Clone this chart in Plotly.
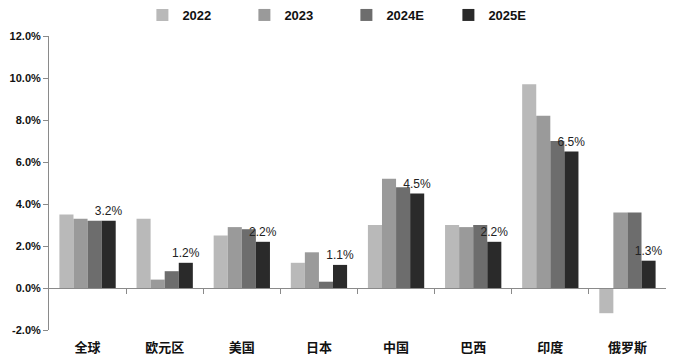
import plotly.graph_objects as go

categories = ["全球", "欧元区", "美国", "日本", "中国", "巴西", "印度", "俄罗斯"]
series_names = ["2022", "2023", "2024E", "2025E"]
v2022 = [3.5, 3.3, 2.5, 1.2, 3.0, 3.0, 9.7, -1.2]
v2023 = [3.3, 0.4, 2.9, 1.7, 5.2, 2.9, 8.2, 3.6]
v2024 = [3.2, 0.8, 2.8, 0.3, 4.8, 3.0, 7.0, 3.6]
v2025 = [3.2, 1.2, 2.2, 1.1, 4.5, 2.2, 6.5, 1.3]
y_ticks = [-2, 0, 2, 4, 6, 8, 10, 12]
y_range = [-2, 12]

colors = ["#b9b9b9", "#9a9a9a", "#6d6d6d", "#2a2a2a"]
values = [v2022, v2023, v2024, v2025]

fig = go.Figure()
for i, (name, vals) in enumerate(zip(series_names, values)):
    show_text = (i == 3)
    fig.add_trace(go.Bar(
        x=categories, y=vals, name=name,
        marker=dict(color=colors[i], line=dict(width=0)),
        text=[f"{v:.1f}%" for v in vals] if show_text else None,
        textposition="outside" if show_text else "none",
        constraintext="none",
        textfont=dict(size=12, color="#222222", family="Liberation Sans"),
        cliponaxis=False,
        hoverinfo="skip",
    ))

# helper axis for the zero line with category boundary ticks
n = len(categories)
fig.add_trace(go.Scatter(x=[-0.5, n - 0.5], y=[None, None], xaxis="x2", yaxis="y",
                         showlegend=False, hoverinfo="skip", mode="lines"))

zero_pos = (0 - y_range[0]) / (y_range[1] - y_range[0])

fig.update_layout(
    width=676, height=356,
    margin=dict(l=49, r=10, t=36, b=26, autoexpand=False),
    paper_bgcolor="white", plot_bgcolor="white",
    barmode="group", bargap=0.27, bargroupgap=0,
    font=dict(family="Noto Sans CJK SC", color="#111111"),
    legend=dict(orientation="h", x=0.482, xanchor="center", y=1.0, yanchor="top",
                yref="container", font=dict(size=13, family="Liberation Sans", weight="bold"),
                entrywidth=57, itemwidth=30, traceorder="normal", tracegroupgap=0),
    xaxis=dict(type="category", showline=False, ticks="", showgrid=False, automargin=False,
               tickfont=dict(size=13, family="Noto Sans CJK SC", weight="bold", color="#111111"),
               ticklabelstandoff=8),
    xaxis2=dict(overlaying="x", anchor="free", position=zero_pos, range=[-0.5, n - 0.5],
                tickvals=[k + 0.5 for k in range(n - 1)], ticks="outside", ticklen=5,
                tickcolor="#8a8a8a", showticklabels=False, showline=True, linecolor="#8a8a8a",
                linewidth=1, showgrid=False, zeroline=False, automargin=False),
    yaxis=dict(range=y_range, tickvals=y_ticks, ticktext=[f"{t:.1f}%" for t in y_ticks],
               showline=True, linecolor="#8a8a8a", linewidth=1, ticks="outside", ticklen=5,
               tickcolor="#8a8a8a", showgrid=False, zeroline=False, automargin=False,
               tickfont=dict(size=11, family="Liberation Sans", weight="bold", color="#111111")),
)

fig.write_html("out.html", config={"displayModeBar": False},
               post_script="document.body.style.margin='0';")
